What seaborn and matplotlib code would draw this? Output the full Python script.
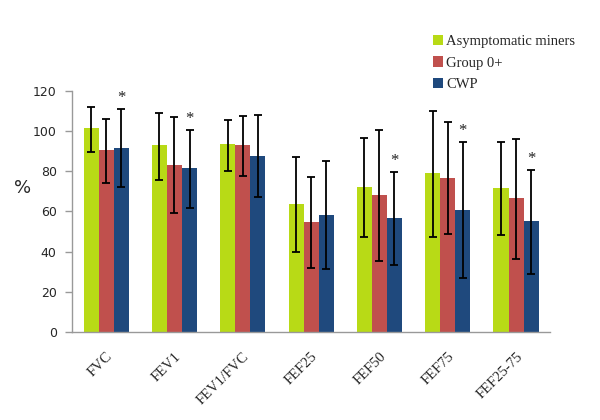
import numpy as np
import pandas as pd
import matplotlib
matplotlib.use("Agg")
import matplotlib.pyplot as plt
import seaborn as sns
from matplotlib.patches import Patch

categories = ["FVC", "FEV1", "FEV1/FVC", "FEF25", "FEF50", "FEF75", "FEF25-75"]
groups = ["Asymptomatic miners", "Group 0+", "CWP"]

asym_mean = [101.5, 93.0, 93.5, 63.5, 72.2, 79.0, 71.7]
asym_hi   = [112.0, 109.0, 105.5, 87.0, 96.6, 110.2, 94.5]
asym_lo   = [89.5, 75.5, 80.0, 40.0, 47.5, 47.5, 48.5]

g0_mean = [90.5, 83.0, 93.0, 54.9, 68.2, 76.9, 66.6]
g0_hi   = [106.0, 107.0, 107.5, 77.2, 100.6, 104.6, 96.0]
g0_lo   = [74.0, 59.0, 77.5, 32.0, 35.4, 49.0, 36.5]

cwp_mean = [91.5, 81.5, 87.5, 58.4, 56.8, 60.8, 55.1]
cwp_hi   = [111.0, 100.5, 108.0, 85.3, 79.5, 94.5, 80.7]
cwp_lo   = [72.0, 61.5, 67.0, 31.4, 33.2, 26.7, 28.7]

significant = [True, True, False, False, True, True, True]

colors = ["#B8DA16", "#C0504D", "#1F497D"]

rows = []
for g, m, hi, lo in zip(groups, [asym_mean, g0_mean, cwp_mean],
                        [asym_hi, g0_hi, cwp_hi], [asym_lo, g0_lo, cwp_lo]):
    for c, mv, h, l in zip(categories, m, hi, lo):
        rows.append({"cat": c, "group": g, "val": mv, "hi": h, "lo": l})
df = pd.DataFrame(rows)

sns.set_style("white")
plt.rcParams['font.family'] = ['Liberation Serif', 'DejaVu Serif']

fig = plt.figure(figsize=(6, 4.2), dpi=100)
ax = fig.add_axes([0.12, 0.21, 0.797, 0.573])

sns.barplot(data=df, x="cat", y="val", hue="group", order=categories,
            hue_order=groups, palette=colors, width=0.66, saturation=1,
            errorbar=None, ax=ax, legend=False, linewidth=0)

# error bars
for gi, g in enumerate(groups):
    cont = ax.containers[gi]
    sub = df[df.group == g].set_index("cat").loc[categories]
    for bar, (_, r) in zip(cont.patches, sub.iterrows()):
        xc = bar.get_x() + bar.get_width() / 2
        ax.errorbar(xc, r.val, yerr=[[r.val - r.lo], [r.hi - r.val]],
                    fmt="none", ecolor="black", elinewidth=1.3,
                    capsize=3, capthick=1.3)
        if g == "CWP":
            idx = categories.index(r.name)
            if significant[idx]:
                ax.text(xc, r.hi + 1.5, "*", ha="center", va="bottom",
                        fontsize=12, color="#222222")

ax.set_ylim(0, 120)
ax.set_xlim(-0.5, len(categories) - 0.5)
ax.set_yticks(np.arange(0, 121, 20))
ax.set_yticklabels([str(v) for v in range(0, 121, 20)],
                   fontfamily="DejaVu Sans", fontsize=9)
ax.set_xticks(range(len(categories)))
ax.set_xticklabels(categories, rotation=45, ha="right",
                   rotation_mode="anchor", fontsize=10.5)
ax.set_xticks(np.arange(-0.5, len(categories), 1), minor=True)
ax.tick_params(axis="x", which="major", length=0, pad=13)
ax.tick_params(axis="x", which="minor", length=5, color="#999999", width=1)
ax.tick_params(axis="y", which="major", length=5, color="#999999", width=1,
               left=True, pad=6)
ax.set_xlabel("")
ax.set_ylabel("%", rotation=0, fontsize=13, fontfamily="DejaVu Sans",
              va="center", ha="center")
ax.yaxis.set_label_coords(-0.1025, 0.597)
for s in ["top", "right"]:
    ax.spines[s].set_visible(False)
for s in ["left", "bottom"]:
    ax.spines[s].set_color("#999999")
    ax.spines[s].set_linewidth(1)

handles = [Patch(facecolor=c, edgecolor="none") for c in colors]
fig.legend(handles, groups, loc="upper left", bbox_to_anchor=(0.712, 0.93),
           frameon=False, fontsize=10.5, handlelength=0.7, handleheight=0.7,
           handletextpad=0.2, labelspacing=0.55, borderaxespad=0)

fig.savefig("out.png", dpi=100)
